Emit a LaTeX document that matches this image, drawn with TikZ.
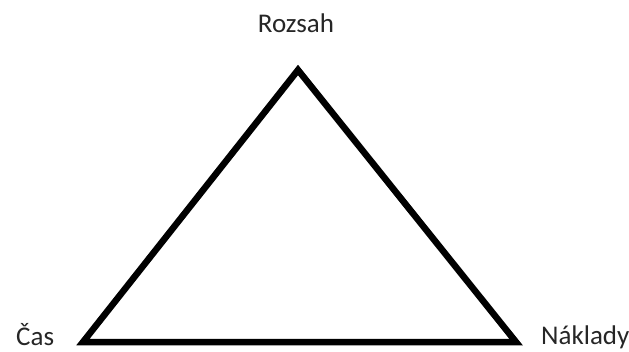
\documentclass[tikz,border=0pt]{standalone}
\usepackage{fontspec}
\setmainfont{Carlito}
\usepackage{tikz}
\usepackage{xcolor}

\begin{document}
\begin{tikzpicture}[x=1pt,y=-1pt]
\tikzset{label text/.style={inner sep=0pt,font=\fontsize{27}{32}\selectfont,text=black!85}}
\useasboundingbox (0,0) rectangle (629,351);
\coordinate (rozsah) at (298,70);
\coordinate (cas) at (83,342);
\coordinate (naklady) at (516,342);
\draw[line width=6.5pt,line join=miter] (rozsah) -- (cas) -- (naklady) -- cycle;
\node[label text,anchor=base] (rozsahlabel) at (296,32) {Rozsah};
\node[label text,anchor=base west] (caslabel) at (16,345) {Čas};
\node[label text,anchor=base west] (nakladylabel) at (541,344) {Náklady};
\end{tikzpicture}
\end{document}
